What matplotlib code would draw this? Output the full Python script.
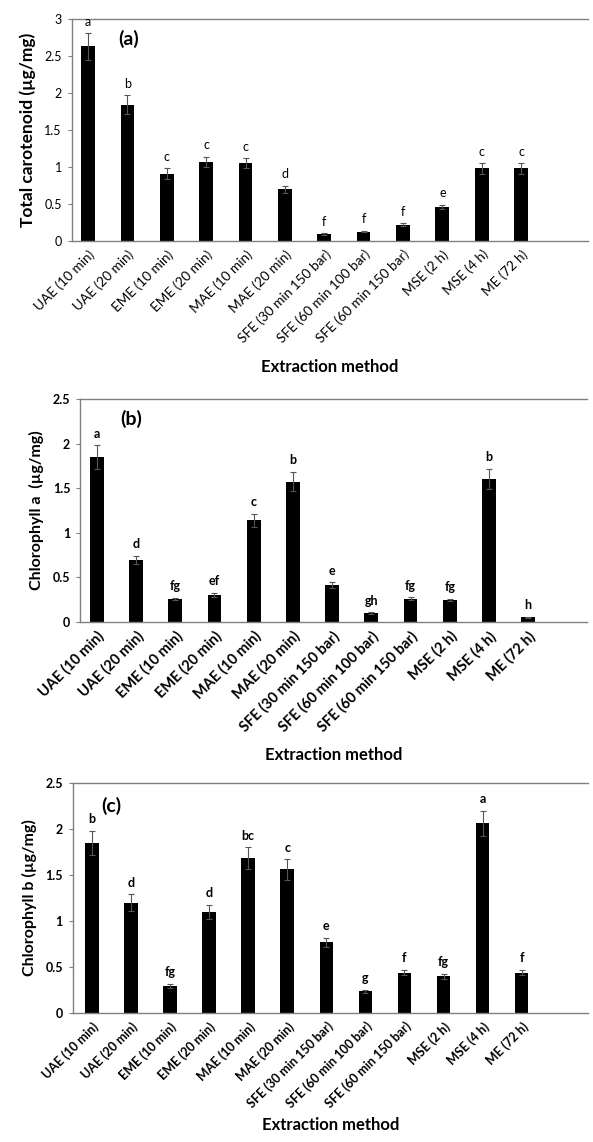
import matplotlib
matplotlib.use("Agg")
import matplotlib.pyplot as plt

plt.rcParams['font.family'] = ['Lato', 'DejaVu Sans']

methods = ["UAE (10 min)", "UAE (20 min)", "EME (10 min)", "EME (20 min)",
           "MAE (10 min)", "MAE (20 min)", "SFE (30 min 150 bar)",
           "SFE (60 min 100 bar)", "SFE (60 min 150 bar)", "MSE (2 h)",
           "MSE (4 h)", "ME (72 h)"]

carotenoid = [2.63, 1.84, 0.91, 1.07, 1.05, 0.70, 0.095, 0.127, 0.22, 0.46, 0.98, 0.98]
carotenoid_err = [0.18, 0.13, 0.07, 0.07, 0.07, 0.05, 0.01, 0.01, 0.02, 0.03, 0.07, 0.07]
carotenoid_letters = ["a", "b", "c", "c", "c", "d", "f", "f", "f", "e", "c", "c"]

chl_a = [1.85, 0.70, 0.257, 0.305, 1.14, 1.575, 0.415, 0.103, 0.26, 0.246, 1.605, 0.055]
chl_a_err = [0.13, 0.045, 0.015, 0.02, 0.075, 0.11, 0.03, 0.008, 0.015, 0.015, 0.11, 0.005]
chl_a_letters = ["a", "d", "fg", "ef", "c", "b", "e", "gh", "fg", "fg", "b", "h"]

chl_b = [1.85, 1.20, 0.293, 1.10, 1.68, 1.56, 0.77, 0.237, 0.44, 0.40, 2.06, 0.44]
chl_b_err = [0.13, 0.09, 0.02, 0.075, 0.12, 0.11, 0.05, 0.015, 0.03, 0.025, 0.14, 0.03]
chl_b_letters = ["b", "d", "fg", "d", "bc", "c", "e", "g", "f", "fg", "a", "f"]

SPINE = "#808080"
W, H = 593, 1142


def px_axes(fig, left, right, top, bottom):
    # pixel box (from top-left) -> figure fraction
    return fig.add_axes([left / W, 1 - bottom / H, (right - left) / W, (bottom - top) / H])


def bar_panel(ax, values, errs, letters, ylabel, ymax, tag, bold, tag_xy,
              xlim, tick_fs, ylab_fs, xlab_pad):
    weight = "bold" if bold else "normal"
    x = range(len(methods))
    ax.bar(x, values, width=0.35, color="black", zorder=2)
    ax.errorbar(x, values, yerr=errs, fmt="none", ecolor="#555555",
                elinewidth=0.8, capsize=2.5, capthick=0.8, zorder=3)

    for xi, v, e, s in zip(x, values, errs, letters):
        ax.text(xi, v + e + ymax * 0.025, s, ha="center", va="bottom",
                fontsize=9, fontweight=weight)

    ax.set_xlim(*xlim)
    ax.set_ylim(0, ymax)
    n = int(ymax / 0.5) + 1
    ax.set_yticks([i * 0.5 for i in range(n)])
    ax.set_yticklabels([f"{i * 0.5:g}" for i in range(n)],
                       fontsize=9, fontweight=weight)
    ax.set_xticks(list(x))
    ax.set_xticklabels(methods, rotation=45, ha="right", rotation_mode="anchor",
                       fontsize=tick_fs, fontweight=weight)
    ax.tick_params(axis="x", length=0, pad=5)
    ax.tick_params(axis="y", length=3, width=0.8, color=SPINE, pad=4)

    for side in ["left", "bottom", "top"]:
        ax.spines[side].set_color(SPINE)
        ax.spines[side].set_linewidth(1.0)
    ax.spines["right"].set_visible(False)

    ax.set_ylabel(ylabel, fontsize=ylab_fs, fontweight="bold", labelpad=6)
    ax.set_xlabel("Extraction method", fontsize=12, fontweight="bold", labelpad=xlab_pad)
    ax.text(tag_xy[0], tag_xy[1], tag, transform=ax.transAxes,
            fontsize=14, fontweight="bold", ha="center", va="center")


fig = plt.figure(figsize=(W / 100, H / 100), dpi=100, facecolor="white")

ax_a = px_axes(fig, 71.5, 588, 19, 241)
bar_panel(ax_a, carotenoid, carotenoid_err, carotenoid_letters,
          "Total carotenoid (µg/mg)", 3, "(a)", False, (0.11, 0.91),
          (-0.42, 12.7), 9.8, 12.5, 10)

ax_b = px_axes(fig, 80, 587, 399, 622)
bar_panel(ax_b, chl_a, chl_a_err, chl_a_letters,
          "Chlorophyll a  (µg/mg)", 2.5, "(b)", True, (0.10, 0.91),
          (-0.43, 12.5), 10.5, 11.5, 9)

ax_c = px_axes(fig, 72.5, 588, 783, 1013)
bar_panel(ax_c, chl_b, chl_b_err, chl_b_letters,
          "Chlorophyll b (µg/mg)", 2.5, "(c)", True, (0.075, 0.90),
          (-0.5, 12.7), 9.0, 11.5, 5)

fig.savefig("out.png", dpi=100)
